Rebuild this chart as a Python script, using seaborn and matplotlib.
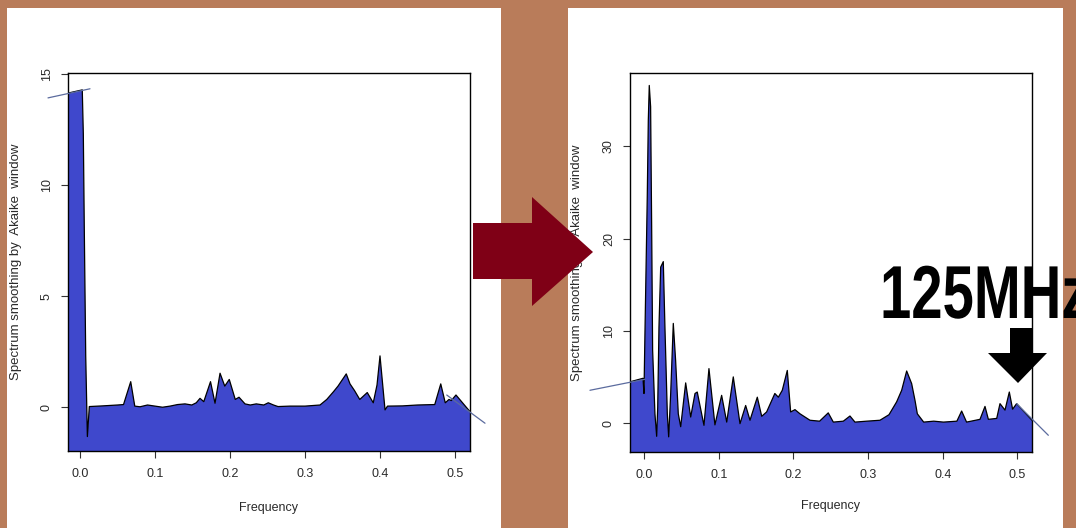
import matplotlib
matplotlib.use("Agg")
import matplotlib.pyplot as plt
import seaborn as sns
from matplotlib.patches import Rectangle, Polygon
from matplotlib.transforms import Affine2D
from matplotlib.patheffects import AbstractPathEffect

# ---------------- data ----------------
left_freq = [-0.0167, 0.003, 0.0044, 0.0057, 0.0076, 0.0098, 0.0124, 0.03, 0.05, 0.058,
             0.0676, 0.073, 0.08, 0.09, 0.10, 0.11, 0.12, 0.13, 0.14, 0.149,
             0.155, 0.16, 0.165, 0.174, 0.18, 0.1867, 0.193, 0.199, 0.207, 0.212,
             0.22, 0.227, 0.235, 0.245, 0.251, 0.258, 0.264, 0.28, 0.30, 0.32,
             0.329, 0.338, 0.344, 0.355, 0.36, 0.366, 0.373, 0.383, 0.391, 0.396,
             0.40, 0.4067, 0.41, 0.43, 0.45, 0.473, 0.481, 0.487, 0.492, 0.495,
             0.5013, 0.52]
left_spec = [14.13, 14.28, 12.3, 8.0, 2.3, -1.32, 0.03, 0.06, 0.10, 0.12,
             1.15, 0.05, 0.02, 0.10, 0.05, 0.0, 0.05, 0.12, 0.15, 0.10,
             0.2, 0.4, 0.25, 1.15, 0.18, 1.53, 0.95, 1.25, 0.35, 0.45,
             0.15, 0.1, 0.15, 0.1, 0.2, 0.1, 0.03, 0.05, 0.05, 0.1,
             0.35, 0.7, 0.95, 1.5, 1.05, 0.75, 0.35, 0.66, 0.2, 1.0,
             2.31, -0.12, 0.05, 0.06, 0.1, 0.12, 1.05, 0.2, 0.35, 0.3,
             0.55, -0.2]

right_freq = [-0.0198, -0.0017, -0.0004, 0.0009, 0.004, 0.0054, 0.0067, 0.0085, 0.0099, 0.0112,
              0.0143, 0.0166, 0.018, 0.0197, 0.022, 0.0255, 0.0277, 0.0309, 0.0327, 0.0354,
              0.0389, 0.042, 0.0456, 0.0488, 0.0555, 0.0622, 0.068, 0.071, 0.08, 0.0867,
              0.0947, 0.1037, 0.1105, 0.1193, 0.1283, 0.1359, 0.1417, 0.1515, 0.1574, 0.164,
              0.175, 0.1797, 0.185, 0.1917, 0.1962, 0.202, 0.2087, 0.2221, 0.235, 0.2466,
              0.2534, 0.2668, 0.2757, 0.2824, 0.2981, 0.3159, 0.328, 0.3383, 0.345, 0.3517,
              0.3584, 0.363, 0.366, 0.3745, 0.388, 0.401, 0.419, 0.4254, 0.432, 0.45,
              0.4567, 0.4612, 0.4724, 0.4768, 0.4835, 0.4893, 0.4937, 0.4991, 0.5197]
right_spec = [4.45, 4.85, 3.2, 9.7, 24.5, 32.8, 36.6, 34.3, 21.3, 7.9,
              1.0, -1.44, 1.7, 10.4, 16.9, 17.5, 10.4, 1.0, -1.5, 3.2,
              10.8, 6.8, 1.0, -0.4, 4.35, 0.65, 3.2, 3.36, -0.25, 5.9,
              -0.2, 3.0, 0.1, 5.0, -0.07, 1.9, 0.3, 2.8, 0.73, 1.2,
              3.2, 2.8, 3.55, 5.7, 1.2, 1.45, 1.0, 0.3, 0.2, 1.1,
              0.1, 0.2, 0.76, 0.1, 0.2, 0.3, 0.9, 2.3, 3.55, 5.64,
              4.27, 2.4, 1.0, 0.1, 0.2, 0.1, 0.2, 1.3, 0.1, 0.4,
              1.8, 0.4, 0.5, 2.1, 1.4, 3.36, 1.5, 2.1, 0.3]

# trend segments drawn past the plot frame
left_trend_a_freq = [-0.0427, 0.0133]
left_trend_a_spec = [13.92, 14.33]
left_trend_b_freq = [0.489, 0.54]
left_trend_b_spec = [0.55, -0.72]
right_trend_a_freq = [-0.0728, 0.0009]
right_trend_a_spec = [3.55, 4.74]
right_trend_b_freq = [0.4991, 0.5416]
right_trend_b_spec = [2.1, -1.33]

x_ticks = [0.0, 0.1, 0.2, 0.3, 0.4, 0.5]
x_tick_labels = ["0.0", "0.1", "0.2", "0.3", "0.4", "0.5"]
left_y_ticks = [0, 5, 10, 15]
left_y_tick_labels = ["0", "5", "10", "15"]
right_y_ticks = [0, 10, 20, 30]
right_y_tick_labels = ["0", "10", "20", "30"]

x_label = "Frequency"
y_label = "Spectrum smoothing by  Akaike  window"
note_text = "125MHz"

# ---------------- styling ----------------
W, H = 1076, 528
BROWN = "#b97c5a"
FILL = "#3f48cc"
TXT = "#2a2a2a"
TREND = "#5b6b9e"

sns.set_style("ticks")
plt.rcParams["font.family"] = ["Liberation Sans", "DejaVu Sans"]

fig = plt.figure(figsize=(W / 100, H / 100), dpi=100, facecolor=BROWN)
px = Affine2D().scale(1 / W, -1 / H).translate(0, 1) + fig.transFigure

# white panels
fig.patches.append(Rectangle((7, 8), 494, 520, transform=px, facecolor="white",
                             edgecolor="none", zorder=-5))
fig.patches.append(Rectangle((568, 8), 495, 520, transform=px, facecolor="white",
                             edgecolor="none", zorder=-5))


def make_axes(x0, x1, y0, y1):
    return fig.add_axes([x0 / W, 1 - y1 / H, (x1 - x0) / W, (y1 - y0) / H])


def draw_panel(ax, freq, spec, xlim, ylim, yticks, yticklabels, trends, xlab_y, ylab_x):
    ax.set_facecolor("white")
    ax.fill_between(freq, spec, ylim[0] - 50, color=FILL, linewidth=0, zorder=1)
    sns.lineplot(x=freq, y=spec, ax=ax, color="black", linewidth=0.9,
                 estimator=None, sort=False, zorder=2)
    for tf, ts in trends:
        ax.plot(tf, ts, color=TREND, linewidth=0.9, clip_on=False, zorder=3)
    ax.set_xlim(*xlim)
    ax.set_ylim(*ylim)
    ax.set_xticks(x_ticks)
    ax.set_xticklabels(x_tick_labels)
    ax.set_yticks(yticks)
    ax.set_yticklabels(yticklabels, rotation=90, va="center")
    ax.tick_params(axis="x", direction="out", length=5, width=0.8, color="#333333",
                   labelsize=9, labelcolor=TXT, pad=7.5)
    ax.tick_params(axis="y", direction="out", length=5, width=0.8, color="#333333",
                   labelsize=9, labelcolor=TXT, pad=5.5)
    for s in ax.spines.values():
        s.set_visible(True)
        s.set_color("black")
        s.set_linewidth(1.0)
    ax.set_xlabel(x_label, fontsize=9, color=TXT)
    ax.set_ylabel(y_label, fontsize=9.5, color=TXT)
    ax.xaxis.set_label_coords(0.5, xlab_y)
    ax.yaxis.set_label_coords(ylab_x, 0.5)


ax1 = make_axes(67.5, 470, 73, 451)
draw_panel(ax1, left_freq, left_spec, (-0.0167, 0.52), (-1.97, 15.04),
           left_y_ticks, left_y_tick_labels,
           [(left_trend_a_freq, left_trend_a_spec), (left_trend_b_freq, left_trend_b_spec)],
           -0.134, -0.113)

ax2 = make_axes(629.5, 1032, 73, 451.7)
draw_panel(ax2, right_freq, right_spec, (-0.0198, 0.5197), (-3.11, 37.95),
           right_y_ticks, right_y_tick_labels,
           [(right_trend_a_freq, right_trend_a_spec), (right_trend_b_freq, right_trend_b_spec)],
           -0.127, -0.115)

# red arrow between the panels
red_arrow = [(473, 223), (532, 223), (532, 197), (593, 252), (532, 306), (532, 279), (473, 279)]
fig.patches.append(Polygon(red_arrow, closed=True, transform=px, facecolor="#7f0016",
                           edgecolor="none", zorder=6))

# black down arrow
black_arrow = [(1010, 328), (1032, 328), (1032, 353), (1047, 353), (1018, 383),
               (988, 353), (1010, 353)]
fig.patches.append(Polygon(black_arrow, closed=True, transform=px, facecolor="black",
                           edgecolor="none", zorder=6))


class HorizontalSqueeze(AbstractPathEffect):
    """Narrow the glyph outlines horizontally around a fixed x (display px)."""

    def __init__(self, sx, x0):
        super().__init__()
        self.sx = sx
        self.x0 = x0

    def draw_path(self, renderer, gc, tpath, affine, rgbFace=None):
        squeeze = Affine2D().translate(-self.x0, 0).scale(self.sx, 1).translate(self.x0, 0)
        renderer.draw_path(gc, tpath, affine + squeeze, rgbFace)


note_x = 880
fig.text(note_x / W, 1 - 318 / H, note_text, fontsize=54, fontweight="bold",
         family=["Liberation Sans", "DejaVu Sans"],
         color="black", ha="left", va="baseline", zorder=7,
         path_effects=[HorizontalSqueeze(0.75, note_x)])

fig.savefig("out.png", dpi=100, facecolor=BROWN)
